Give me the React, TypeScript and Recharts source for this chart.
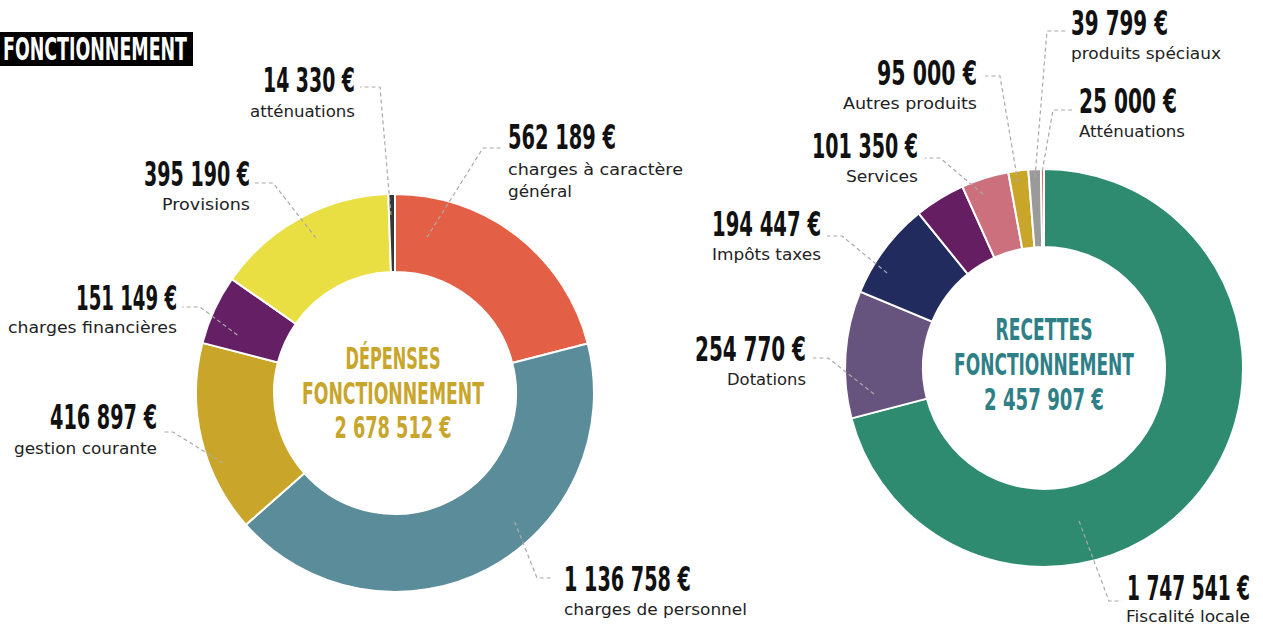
import React from "react";
import { PieChart, Pie, Cell } from "recharts";

// ---------- DATA ----------
const LEFT_NAMES = [
  "charges à caractère général",
  "charges de personnel",
  "gestion courante",
  "charges financières",
  "Provisions",
  "atténuations",
];
const LEFT_VALUES = [562189, 1136758, 416897, 151149, 395190, 14330];
const LEFT_AMOUNTS = ["562 189 €", "1 136 758 €", "416 897 €", "151 149 €", "395 190 €", "14 330 €"];
const LEFT_SUBTITLES = [
  ["charges à caractère", "général"],
  ["charges de personnel"],
  ["gestion courante"],
  ["charges financières"],
  ["Provisions"],
  ["atténuations"],
];
const LEFT_TOTAL = ["DÉPENSES", "FONCTIONNEMENT", "2 678 512 €"];

const RIGHT_NAMES = [
  "Fiscalité locale",
  "Dotations",
  "Impôts taxes",
  "Services",
  "Autres produits",
  "produits spéciaux",
  "Atténuations",
  "",
];
const RIGHT_VALUES = [1747541, 254770, 194447, 101350, 95000, 39799, 25000, 6000];
const RIGHT_AMOUNTS = ["1 747 541 €", "254 770 €", "194 447 €", "101 350 €", "95 000 €", "39 799 €", "25 000 €", ""];
const RIGHT_SUBTITLES = [
  ["Fiscalité locale"],
  ["Dotations"],
  ["Impôts taxes"],
  ["Services"],
  ["Autres produits"],
  ["produits spéciaux"],
  ["Atténuations"],
  [],
];
const RIGHT_TOTAL = ["RECETTES", "FONCTIONNEMENT", "2 457 907 €"];

const TITLE = "FONCTIONNEMENT";

// ---------- STYLE ----------
const LEFT_COLORS = ["#e35f46", "#5b8c99", "#c9a629", "#651f64", "#e9df42", "#363636"];
const RIGHT_COLORS = ["#2e8b70", "#66547f", "#222b5d", "#661e63", "#cc707d", "#c9a629", "#9a9a9a", "#e35f46"];

const NUM_FONT = "'Liberation Sans Narrow', 'DejaVu Sans Condensed', 'Roboto', sans-serif";
const SUB_FONT = "'DejaVu Sans', 'Noto Sans', sans-serif";

type LabelLayout = {
  ang: number;
  rad: number;
  elbow: [number, number];
  end: [number, number];
  anchor: "start" | "end";
  x: number;
  numBase: number;
  numW: number;
  subBase: number[];
  subW: number[];
};

const LEFT_LAYOUT: (LabelLayout | null)[] = [
  { ang: 11.6, rad: 159, elbow: [483, 148], end: [503, 148], anchor: "start", x: 508, numBase: 149, numW: 108, subBase: [175, 197], subW: [175, 64] },
  { ang: 137.1, rad: 176, elbow: [537, 578], end: [553, 578], anchor: "start", x: 564, numBase: 591, numW: 127, subBase: [615], subW: [183] },
  { ang: 247.9, rad: 186, elbow: [173, 432], end: [162, 432], anchor: "end", x: 157, numBase: 429, numW: 107, subBase: [454], subW: [143] },
  { ang: 290.2, rad: 168, elbow: [200, 307], end: [182, 307], anchor: "end", x: 177, numBase: 310, numW: 101, subBase: [333], subW: [169] },
  { ang: 333, rad: 174, elbow: [273, 183], end: [253, 183], anchor: "end", x: 250, numBase: 186, numW: 106, subBase: [210], subW: [88] },
  { ang: 358.7, rad: 178, elbow: [380, 87], end: [360, 87], anchor: "end", x: 355, numBase: 92, numW: 92, subBase: [117], subW: [105] },
];

const RIGHT_LAYOUT: (LabelLayout | null)[] = [
  { ang: 167.1, rad: 157, elbow: [1109, 601], end: [1122, 601], anchor: "end", x: 1250, numBase: 600, numW: 123, subBase: [622], subW: [124] },
  { ang: 261.3, rad: 172, elbow: [828, 358], end: [813, 358], anchor: "end", x: 806, numBase: 361, numW: 111, subBase: [385], subW: [79] },
  { ang: 301.2, rad: 183.5, elbow: [842, 236], end: [827, 236], anchor: "end", x: 821, numBase: 236, numW: 109, subBase: [260], subW: [109] },
  { ang: 340.7, rad: 184, elbow: [940, 158], end: [925, 158], anchor: "end", x: 918, numBase: 158, numW: 106, subBase: [182], subW: [72] },
  { ang: 352, rad: 188, elbow: [1000, 76], end: [985, 76], anchor: "end", x: 977, numBase: 85, numW: 100, subBase: [109], subW: [134] },
  { ang: 357.3, rad: 191, elbow: [1047, 31], end: [1067, 31], anchor: "start", x: 1071, numBase: 35, numW: 97, subBase: [59], subW: [150] },
  { ang: 359.5, rad: 197, elbow: [1053, 110], end: [1072, 110], anchor: "start", x: 1079, numBase: 113, numW: 98, subBase: [137], subW: [106] },
  null,
];

const leftData = LEFT_NAMES.map((name, i) => ({ name, value: LEFT_VALUES[i] }));
const rightData = RIGHT_NAMES.map((name, i) => ({ name, value: RIGHT_VALUES[i] }));

function makeLabel(layout: (LabelLayout | null)[], amounts: string[], subs: string[][]) {
  return (props: any) => {
    const i = props.index;
    const L = layout[i];
    if (!L || !amounts[i]) return <g key={`l-${i}`} />;
    const cx = Number(props.cx);
    const cy = Number(props.cy);
    const a = (L.ang * Math.PI) / 180;
    const px = cx + L.rad * Math.sin(a);
    const py = cy - L.rad * Math.cos(a);
    const pts = `${px},${py} ${L.elbow[0]},${L.elbow[1]} ${L.end[0]},${L.end[1]}`;
    return (
      <g key={`l-${i}`}>
        <polyline points={pts} fill="none" stroke="#aaaaaa" strokeWidth={1.2} strokeDasharray="4 3" />
        <text
          x={L.x}
          y={L.numBase}
          textAnchor={L.anchor}
          fontFamily={NUM_FONT}
          fontWeight={700}
          fontSize={34}
          fill="#111111"
          textLength={L.numW}
          lengthAdjust="spacingAndGlyphs"
        >
          {amounts[i]}
        </text>
        {subs[i].map((s, k) => (
          <text
            key={k}
            x={L.x}
            y={L.subBase[k]}
            textAnchor={L.anchor}
            fontFamily={SUB_FONT}
            fontSize={16}
            fill="#222222"
            textLength={L.subW[k]}
            lengthAdjust="spacingAndGlyphs"
          >
            {s}
          </text>
        ))}
      </g>
    );
  };
}

function CenterText({ x, lines, bases, widths, color }: { x: number; lines: string[]; bases: number[]; widths: number[]; color: string }) {
  return (
    <g>
      {lines.map((t, i) => (
        <text
          key={i}
          x={x}
          y={bases[i]}
          textAnchor="middle"
          fontFamily={NUM_FONT}
          fontWeight={700}
          fontSize={30}
          fill={color}
          textLength={widths[i]}
          lengthAdjust="spacingAndGlyphs"
        >
          {t}
        </text>
      ))}
    </g>
  );
}

export default function App() {
  return (
    <div style={{ position: "absolute", left: 0, top: 0, width: 1263, height: 628, background: "#ffffff" }}>
      <PieChart width={1263} height={628} margin={{ top: 0, right: 0, bottom: 0, left: 0 }}>
        <Pie
          data={leftData}
          dataKey="value"
          nameKey="name"
          cx={395}
          cy={393}
          innerRadius={121}
          outerRadius={199}
          startAngle={90}
          endAngle={-270}
          stroke="#ffffff"
          strokeWidth={2}
          isAnimationActive={false}
          labelLine={false}
          label={makeLabel(LEFT_LAYOUT, LEFT_AMOUNTS, LEFT_SUBTITLES)}
        >
          {leftData.map((d, i) => (
            <Cell key={d.name} fill={LEFT_COLORS[i]} />
          ))}
        </Pie>
        <Pie
          data={rightData}
          dataKey="value"
          nameKey="name"
          cx={1044}
          cy={368}
          innerRadius={121}
          outerRadius={199}
          startAngle={90}
          endAngle={-270}
          stroke="#ffffff"
          strokeWidth={2}
          isAnimationActive={false}
          labelLine={false}
          label={makeLabel(RIGHT_LAYOUT, RIGHT_AMOUNTS, RIGHT_SUBTITLES)}
        >
          {rightData.map((d, i) => (
            <Cell key={`r-${i}`} fill={RIGHT_COLORS[i]} />
          ))}
        </Pie>
      </PieChart>
      <svg
        width={1263}
        height={628}
        style={{ position: "absolute", left: 0, top: 0, pointerEvents: "none" }}
      >
        <rect x={0} y={32} width={193} height={34} fill="#000000" />
        <text
          x={3}
          y={60}
          fontFamily={NUM_FONT}
          fontWeight={700}
          fontSize={32}
          fill="#ffffff"
          textLength={184}
          lengthAdjust="spacingAndGlyphs"
        >
          {TITLE}
        </text>
        <CenterText x={393} lines={LEFT_TOTAL} bases={[369, 404, 438]} widths={[95, 182, 117]} color="#c8a52b" />
        <CenterText x={1044} lines={RIGHT_TOTAL} bases={[340, 375, 410]} widths={[97, 180, 120]} color="#2f7f87" />
      </svg>
    </div>
  );
}
